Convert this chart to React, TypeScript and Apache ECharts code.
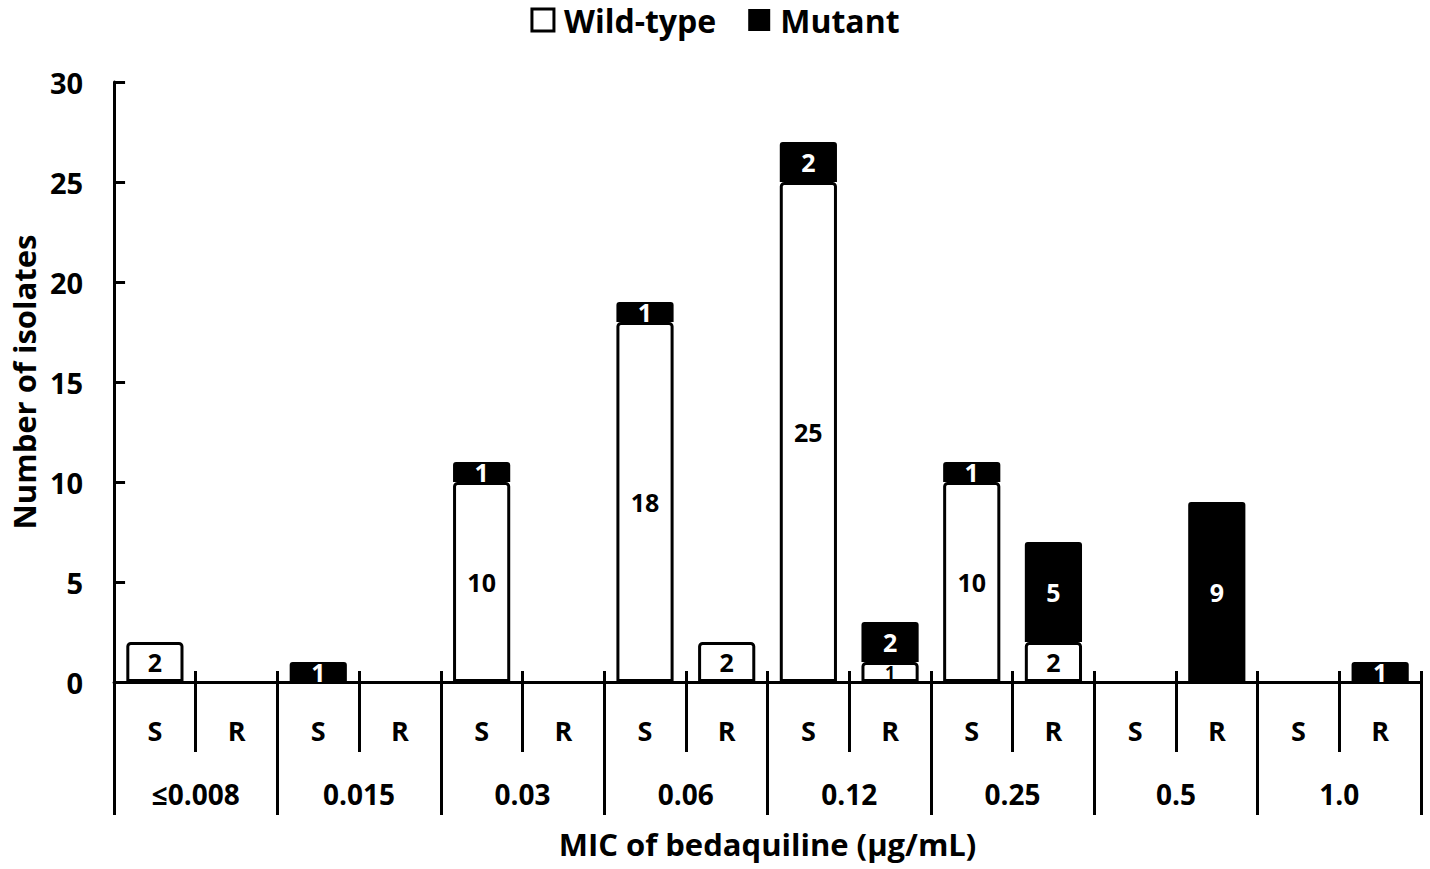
import React, { useEffect, useRef } from "react";
import * as echarts from "echarts";

const categories = ["S", "R", "S", "R", "S", "R", "S", "R", "S", "R", "S", "R", "S", "R", "S", "R"];
const groups = ["≤0.008", "0.015", "0.03", "0.06", "0.12", "0.25", "0.5", "1.0"];
const wildType = [2, 0, 0, 0, 10, 0, 18, 2, 25, 1, 10, 2, 0, 0, 0, 0];
const mutant = [0, 0, 1, 0, 1, 0, 1, 0, 2, 2, 1, 5, 0, 9, 0, 1];
const yTicks = { min: 0, max: 30, interval: 5 };

const FONT = "Open Sans";

export default function App() {
  const ref = useRef<HTMLDivElement>(null);
  useEffect(() => {
    if (!ref.current) return;
    const chart = echarts.init(ref.current, null, { renderer: "svg" });
    const bold = { fontFamily: FONT, fontWeight: "bold" as const, color: "#000" };
    chart.setOption({
      animation: false,
      backgroundColor: "#fff",
      legend: {
        top: -1,
        left: "center",
        itemWidth: 22,
        itemHeight: 22,
        itemGap: 32,
        textStyle: { ...bold, fontSize: 32, padding: [0, 0, 0, 5] },
        data: [
          { name: "Wild-type", icon: "rect", itemStyle: { color: "#fff", borderColor: "#000", borderWidth: 3 } },
          { name: "Mutant", icon: "rect", itemStyle: { color: "#000", borderWidth: 0 } },
        ],
      },
      grid: { left: 113, right: 9, top: 82, bottom: 187, containLabel: false },
      xAxis: [
        {
          type: "category",
          data: categories,
          position: "bottom",
          axisLine: { show: true, lineStyle: { color: "#000", width: 3 } },
          axisTick: { show: true, length: 70, lineStyle: { color: "#000", width: 3 }, alignWithLabel: false },
          axisLabel: { ...bold, fontSize: 27, margin: 35, interval: 0 },
        },
        {
          type: "category",
          data: categories,
          position: "bottom",
          axisLine: { show: false },
          axisTick: { show: true, inside: true, length: 11, lineStyle: { color: "#000", width: 3 } },
          axisLabel: { show: false },
        },
        {
          type: "category",
          data: groups,
          position: "bottom",
          axisLine: { show: false },
          axisTick: { show: true, length: 133, lineStyle: { color: "#000", width: 3 } },
          axisLabel: { ...bold, fontSize: 28, margin: 98, interval: 0 },
          name: "MIC of bedaquiline (μg/mL)",
          nameLocation: "middle",
          nameGap: 146,
          nameTextStyle: { ...bold, fontSize: 31 },
        },
      ],
      yAxis: {
        type: "value",
        min: yTicks.min,
        max: yTicks.max,
        interval: yTicks.interval,
        splitLine: { show: false },
        axisLine: { show: true, lineStyle: { color: "#000", width: 3 } },
        axisTick: { show: true, inside: true, length: 11, lineStyle: { color: "#000", width: 3 } },
        axisLabel: { ...bold, fontSize: 29, margin: 31 },
        name: "Number of isolates",
        nameLocation: "middle",
        nameGap: 72,
        nameRotate: 90,
        nameTextStyle: { ...bold, fontSize: 31 },
      },
      series: [
        {
          name: "Wild-type",
          type: "bar",
          stack: "total",
          xAxisIndex: 0,
          barWidth: "70%",
          z: 2,
          itemStyle: { color: "#fff", borderColor: "#000", borderWidth: 3, borderRadius: [3, 3, 0, 0] },
          label: {
            show: true,
            position: "inside",
            ...bold,
            fontSize: 25,
            formatter: (p: any) => (p.value ? String(p.value) : ""),
          },
          data: wildType.map((v) => {
            if (v === 0) return { value: v, itemStyle: { borderWidth: 0 } };
            if (v === 1) return { value: v, label: { fontSize: 18, lineHeight: 18 } };
            return v;
          }),
        },
        {
          name: "Mutant",
          type: "bar",
          stack: "total",
          xAxisIndex: 0,
          barWidth: "70%",
          z: 3,
          itemStyle: { color: "#000", borderColor: "#000", borderWidth: 0, borderRadius: [3, 3, 0, 0] },
          label: {
            show: true,
            position: "inside",
            fontFamily: FONT,
            fontWeight: "bold",
            color: "#fff",
            fontSize: 25,
            formatter: (p: any) => (p.value ? String(p.value) : ""),
          },
          data: mutant,
        },
      ],
    });
    return () => chart.dispose();
  }, []);
  return (
    <div
      ref={ref}
      style={{ position: "fixed", left: 0, top: 0, width: 1430, height: 869, background: "#fff" }}
    />
  );
}
